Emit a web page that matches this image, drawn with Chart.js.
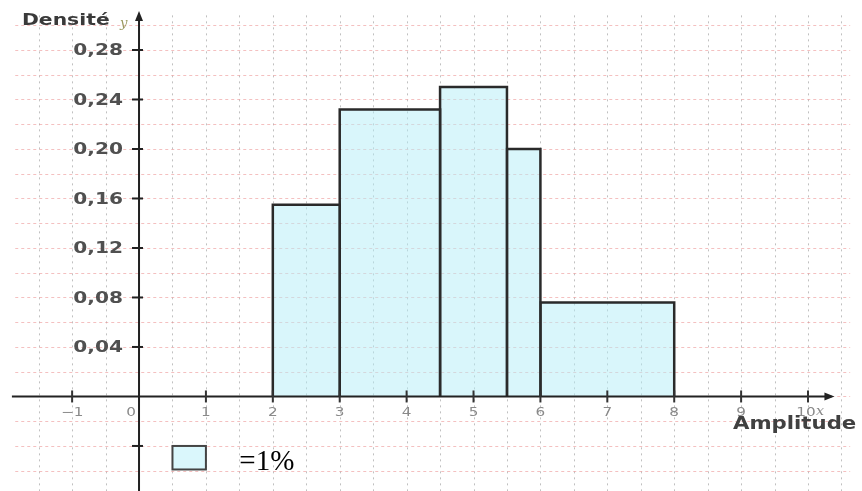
<!DOCTYPE html>
<html>
<head>
<meta charset="utf-8">
<script src="https://cdn.jsdelivr.net/npm/chart.js@4"></script>
<style>
  html, body { margin: 0; padding: 0; background: #ffffff; }
  canvas { display: block; }
</style>
</head>
<body>
<canvas id="c" width="862" height="491"></canvas>
<script>
// ---- data ----
const classEdges = [2, 3, 4.5, 5.5, 6, 8];
const densities = [0.155, 0.232, 0.25, 0.2, 0.076];
const yTickValues = [-0.04, 0.04, 0.08, 0.12, 0.16, 0.20, 0.24, 0.28];
const yTickLabels = ['', '0,04', '0,08', '0,12', '0,16', '0,20', '0,24', '0,28'];
const xTickValues = [-1, 0, 1, 2, 3, 4, 5, 6, 7, 8, 9, 10];
const xTickLabels = ['\u22121', '0', '1', '2', '3', '4', '5', '6', '7', '8', '9', '10'];
const legendText = '=1%';
const yAxisTitle = 'Densité';
const xAxisTitle = 'Amplitude';

// axis ranges (data units)
const X_MIN = -2.078, X_MAX = 10.807;
const Y_MIN = -0.0764, Y_MAX = 0.3204;
// grid ranges
const GRID_X_FROM = -1.85, GRID_X_TO = 10.63, GRID_X_STEP = 0.5;
const GRID_Y_FROM = -0.06, GRID_Y_TO = 0.30, GRID_Y_STEP = 0.02;

const datasets = densities.map((d, i) => ({
  data: [
    { x: classEdges[i], y: 0 },
    { x: classEdges[i], y: d },
    { x: classEdges[i + 1], y: d },
    { x: classEdges[i + 1], y: 0 }
  ],
  borderColor: '#2a2a2a',
  borderWidth: 2.5,
  backgroundColor: 'rgba(180,238,247,0.5)',
  fill: 'origin',
  pointRadius: 0,
  tension: 0,
  clip: false
}));

function stretchText(ctx, text, x, y, font, color, align, baseline, sx) {
  ctx.save();
  ctx.font = font;
  ctx.fillStyle = color;
  ctx.textAlign = align;
  ctx.textBaseline = baseline;
  ctx.translate(x, y);
  ctx.scale(sx, 1);
  ctx.fillText(text, 0, 0);
  ctx.restore();
}

const gridPlugin = {
  id: 'grid',
  beforeDatasetsDraw(chart) {
    const { ctx, scales: { x, y } } = chart;
    ctx.save();
    ctx.lineWidth = 1;
    // vertical dotted grey
    ctx.strokeStyle = 'rgba(140,140,140,0.55)';
    ctx.setLineDash([2, 4]);
    for (let v = -1.5; v <= GRID_X_TO + 1e-9; v += GRID_X_STEP) {
      const px = Math.round(x.getPixelForValue(v)) + 0.5;
      ctx.beginPath();
      ctx.moveTo(px, y.getPixelForValue(GRID_Y_TO + 0.008));
      ctx.lineTo(px, y.getPixelForValue(Y_MIN));
      ctx.stroke();
    }
    // horizontal pink dashed
    ctx.strokeStyle = 'rgba(236,150,150,0.6)';
    ctx.setLineDash([3, 3]);
    for (let v = GRID_Y_FROM; v <= GRID_Y_TO + 1e-9; v += GRID_Y_STEP) {
      const py = Math.round(y.getPixelForValue(v)) + 0.5;
      ctx.beginPath();
      ctx.moveTo(x.getPixelForValue(GRID_X_FROM), py);
      ctx.lineTo(x.getPixelForValue(GRID_X_TO), py);
      ctx.stroke();
    }
    ctx.restore();
  },
  afterDatasetsDraw(chart) {
    const { ctx, scales: { x, y } } = chart;
    const ox = x.getPixelForValue(0);
    const oy = y.getPixelForValue(0);
    ctx.save();
    ctx.setLineDash([]);
    ctx.strokeStyle = '#222';
    ctx.fillStyle = '#222';
    ctx.lineWidth = 2;
    // x axis
    const xEnd = x.getPixelForValue(10.35);
    ctx.beginPath();
    ctx.moveTo(x.getPixelForValue(-1.9), oy);
    ctx.lineTo(xEnd, oy);
    ctx.stroke();
    ctx.beginPath();
    ctx.moveTo(xEnd + 3, oy);
    ctx.lineTo(xEnd - 7, oy - 4);
    ctx.lineTo(xEnd - 7, oy + 4);
    ctx.closePath();
    ctx.fill();
    // y axis
    const yEnd = y.getPixelForValue(0.309);
    ctx.beginPath();
    ctx.moveTo(ox, y.getPixelForValue(Y_MIN));
    ctx.lineTo(ox, yEnd);
    ctx.stroke();
    ctx.beginPath();
    ctx.moveTo(ox, yEnd - 3);
    ctx.lineTo(ox - 4, yEnd + 7);
    ctx.lineTo(ox + 4, yEnd + 7);
    ctx.closePath();
    ctx.fill();
    // y ticks
    ctx.lineWidth = 2;
    yTickValues.forEach((v, i) => {
      const py = y.getPixelForValue(v);
      ctx.beginPath();
      ctx.moveTo(ox - 7, py);
      ctx.lineTo(ox + 4, py);
      ctx.stroke();
      if (yTickLabels[i]) {
        stretchText(ctx, yTickLabels[i], ox - 16, py + 1, 'bold 16px "DejaVu Sans"', '#505050', 'right', 'middle', 1.26);
      }
    });
    // x ticks
    xTickValues.forEach((v, i) => {
      const px = x.getPixelForValue(v);
      if (v !== 0) {
        ctx.strokeStyle = '#333';
        ctx.beginPath();
        ctx.moveTo(px, oy - 6);
        ctx.lineTo(px, oy + 6);
        ctx.stroke();
      }
      let lx = px;
      if (v === 0) lx = px - 8;
      if (v === 10) lx = px - 2;
      stretchText(ctx, xTickLabels[i], lx, oy + 16, '12px "DejaVu Sans"', '#8a8a8a', 'center', 'middle', 1.27);
    });
    // italic x after 10
    stretchText(ctx, 'x', x.getPixelForValue(10) + 8, oy + 15, 'italic 13px "DejaVu Serif"', '#8a8a8a', 'left', 'middle', 1.1);
    // axis titles
    stretchText(ctx, yAxisTitle, 22, 21, 'bold 16px "DejaVu Sans"', '#3a3a3a', 'left', 'middle', 1.27);
    stretchText(ctx, 'y', ox - 19, 24, 'italic 12px "DejaVu Serif"', '#9a9a60', 'left', 'middle', 1.1);
    stretchText(ctx, xAxisTitle, 733, oy + 33, 'bold 17px "DejaVu Sans"', '#404040', 'left', 'alphabetic', 1.25);
    // legend box (one grid cell in data units)
    const lx0 = x.getPixelForValue(0.5), lx1 = x.getPixelForValue(1.0);
    const ly0 = y.getPixelForValue(-0.04), ly1 = y.getPixelForValue(-0.059);
    ctx.fillStyle = 'rgb(218,247,252)';
    ctx.fillRect(lx0, ly0, lx1 - lx0, ly1 - ly0);
    ctx.strokeStyle = '#444';
    ctx.lineWidth = 2;
    ctx.strokeRect(lx0, ly0, lx1 - lx0, ly1 - ly0);
    stretchText(ctx, legendText, x.getPixelForValue(1.5), y.getPixelForValue(-0.0595), '29px "Liberation Serif"', '#000', 'left', 'alphabetic', 1.0);
    ctx.restore();
  }
};

new Chart(document.getElementById('c'), {
  type: 'line',
  data: { datasets },
  options: {
    responsive: false,
    devicePixelRatio: 1,
    animation: false,
    layout: { padding: 0 },
    plugins: { legend: { display: false }, tooltip: { enabled: false } },
    scales: {
      x: { type: 'linear', min: X_MIN, max: X_MAX, display: false },
      y: { type: 'linear', min: Y_MIN, max: Y_MAX, display: false }
    }
  },
  plugins: [gridPlugin]
});
</script>
</body>
</html>
